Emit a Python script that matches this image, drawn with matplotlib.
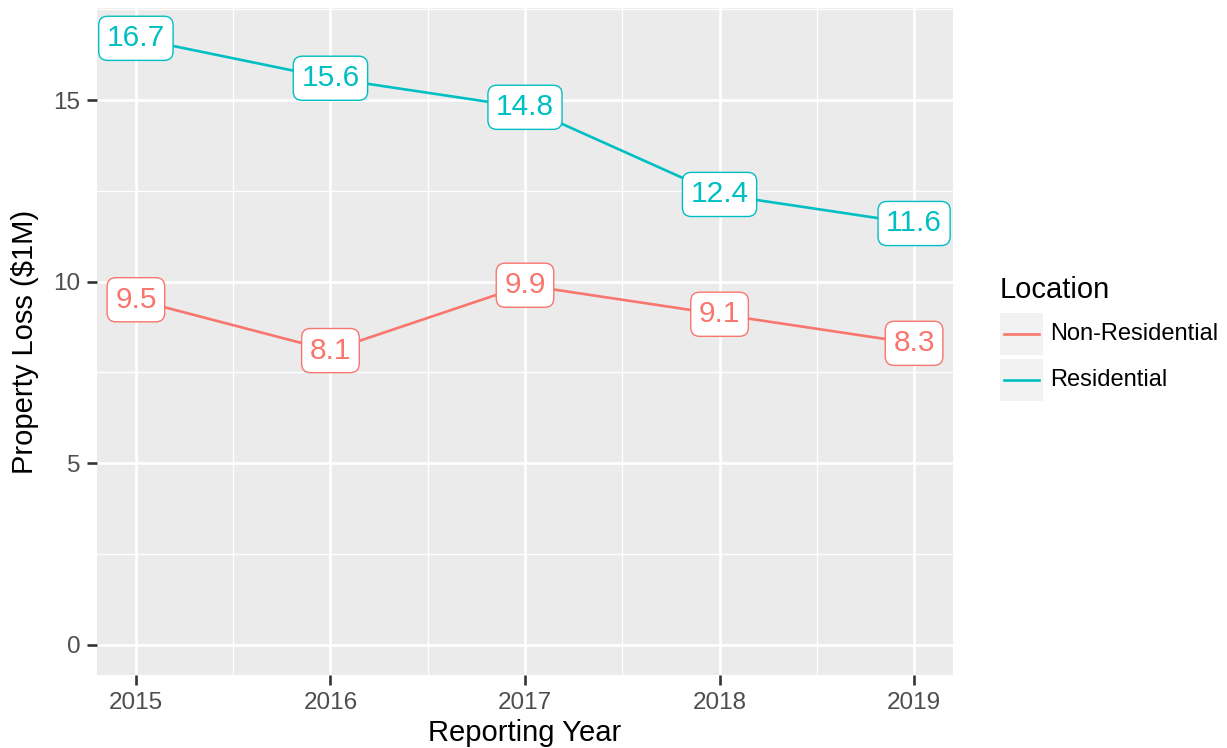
import matplotlib.pyplot as plt
from matplotlib.patches import Rectangle
from matplotlib.lines import Line2D
import numpy as np

plt.rcParams['font.family'] = ['Liberation Sans', 'DejaVu Sans']

years = [2015, 2016, 2017, 2018, 2019]
non_residential = [9.5, 8.1, 9.9, 9.1, 8.3]
residential = [16.7, 15.6, 14.8, 12.4, 11.6]
series = {'Non-Residential': (non_residential, '#F8766D'),
          'Residential': (residential, '#00BFC4')}
y_ticks = [0, 5, 10, 15]

fig = plt.figure(figsize=(12.27, 7.48), dpi=100)
ax = fig.add_axes([97 / 1227, 1 - 675 / 748, (953 - 97) / 1227, (675 - 8) / 748])
ax.set_facecolor('#EBEBEB')

# grid like ggplot
for x in np.arange(2015.5, 2019, 1.0):
    ax.axvline(x, color='white', lw=1.0, zorder=0)
for y in [2.5, 7.5, 12.5, 17.5]:
    ax.axhline(y, color='white', lw=1.0, zorder=0)
for x in years:
    ax.axvline(x, color='white', lw=1.9, zorder=0)
for y in y_ticks:
    ax.axhline(y, color='white', lw=1.9, zorder=0)

for name, (vals, col) in series.items():
    ax.plot(years, vals, color=col, lw=1.9, zorder=2)
    for x, v in zip(years, vals):
        ax.text(x, v, f'{v:.1f}', color=col, fontsize=21.5, ha='center', va='center',
                zorder=3,
                bbox=dict(boxstyle='round,pad=0.27,rounding_size=0.3', fc='white',
                          ec=col, lw=1.0))

ymax = 16.7
ax.set_xlim(2014.8, 2019.2)
ax.set_ylim(-0.05 * ymax, ymax * 1.05)
ax.set_xticks(years)
ax.set_yticks(y_ticks)
ax.tick_params(colors='#333333', labelcolor='#4D4D4D', labelsize=17.5,
               length=7, width=1.9)
ax.tick_params(axis='x', pad=5)
ax.tick_params(axis='y', pad=5)
for s in ax.spines.values():
    s.set_visible(False)

ax.set_xlabel('Reporting Year', fontsize=21, color='black', labelpad=4)
ax.set_ylabel('Property Loss ($1M)', fontsize=21, color='black', labelpad=10)

# legend
fig.text(1000 / 1227, 1 - 290 / 748, 'Location', fontsize=21, ha='left', va='center')
key_tops = [313, 359]
for (name, (vals, col)), top in zip(series.items(), key_tops):
    fig.add_artist(Rectangle((1000 / 1227, 1 - (top + 42) / 748), 43 / 1227, 42 / 748,
                             transform=fig.transFigure, fc='#F2F2F2', ec='none'))
    yc = 1 - (top + 21) / 748
    fig.add_artist(Line2D([1004 / 1227, 1039 / 1227], [yc, yc], transform=fig.transFigure,
                          color=col, lw=1.9))
    fig.text(1050 / 1227, yc, name, fontsize=17, ha='left', va='center')

fig.savefig('out.png', dpi=100)
